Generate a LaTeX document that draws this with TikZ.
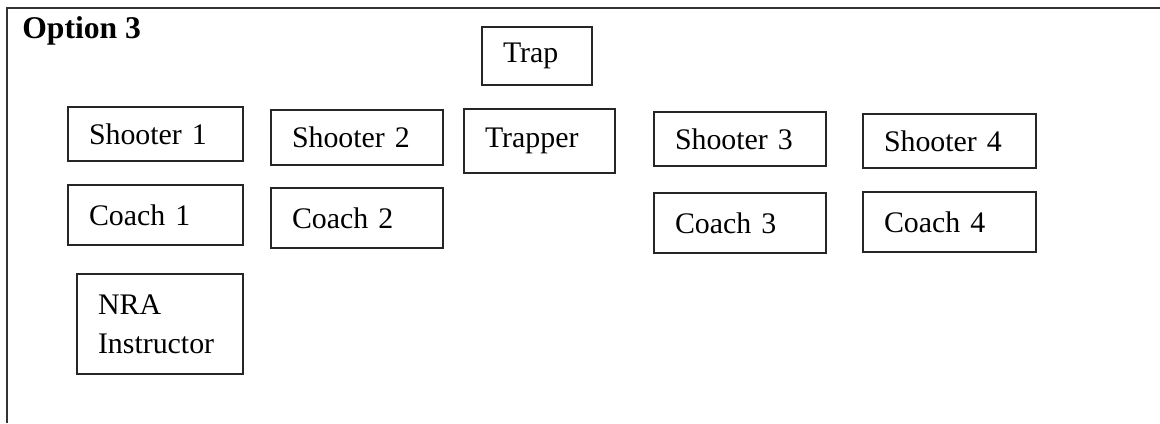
\documentclass[tikz,border=0pt]{standalone}
\usepackage{fontspec}
\setmainfont{Liberation Serif}
\usepackage{tikz}

\tikzset{spot/.style 2 args={draw=black!85, line width=0.8pt, rectangle,
    inner xsep=0.42cm, inner ysep=2pt, align=left,
    text width=#1, minimum height=#2,
    font=\fontsize{17}{22}\selectfont}}

\begin{document}
\begin{tikzpicture}[x=0.02cm,y=-0.02cm]
\useasboundingbox (0,0) rectangle (1160,423);
\draw [black!80, line width=0.8pt] (1160,8) -- (7,8) -- (7,423);
\node [anchor=base west, inner sep=0pt, font=\fontsize{18}{22}\selectfont\bfseries] (title) at (22,38) {Option 3};

\node [spot={1.36cm}{1.16cm}] (trap) at (537,56) {Trap};
\node [spot={2.18cm}{1.28cm}] (trapper) at (539.5,141) {Trapper};

\node [spot={2.66cm}{1.08cm}] (s1) at (155.5,134) {Shooter 1};
\node [spot={2.60cm}{1.10cm}] (s2) at (357,137.5) {Shooter 2};
\node [spot={2.60cm}{1.08cm}] (s3) at (740,139) {Shooter 3};
\node [spot={2.62cm}{1.08cm}] (s4) at (949.5,141) {Shooter 4};

\node [spot={2.66cm}{1.20cm}] (c1) at (155.5,215) {Coach 1};
\node [spot={2.60cm}{1.20cm}] (c2) at (357,218) {Coach 2};
\node [spot={2.60cm}{1.20cm}] (c3) at (740,223) {Coach 3};
\node [spot={2.62cm}{1.20cm}] (c4) at (949.5,222) {Coach 4};

\node [spot={2.48cm}{2.00cm}] (nra) at (160,324) {NRA\\Instructor};
\end{tikzpicture}
\end{document}
